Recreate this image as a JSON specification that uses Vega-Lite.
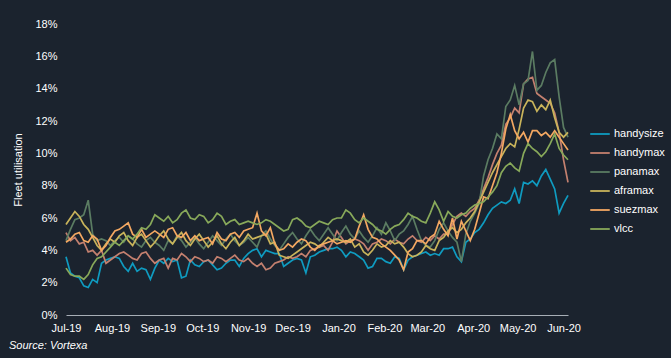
{
  "$schema": "https://vega.github.io/schema/vega-lite/v6.json",
  "width": 502,
  "height": 291,
  "autosize": {"type": "none"},
  "padding": {"left": 66, "top": 24, "right": 103, "bottom": 43},
  "background": "#1b232e",
  "config": {
    "view": {"stroke": null},
    "font": "Liberation Sans",
    "axis": {"labelFont": "Liberation Sans", "titleFont": "Liberation Sans", "labelColor": "#ffffff", "titleColor": "#ffffff", "grid": false},
    "legend": {"labelFont": "Liberation Sans"}
  },
  "title": {
    "text": "Source: Vortexa",
    "orient": "bottom",
    "anchor": "start",
    "frame": "bounds",
    "font": "Liberation Sans",
    "fontStyle": "italic",
    "fontWeight": "normal",
    "fontSize": 11,
    "color": "#ffffff",
    "offset": 7,
    "dx": -4
  },
  "data": {
    "values": [
      {"date":"2019-07-01","handysize":3.6,"handymax":5.1,"panamax":4.6,"aframax":5.6,"suezmax":4.5,"vlcc":2.9},
      {"date":"2019-07-04","handysize":2.6,"handymax":4.6,"panamax":5.3,"aframax":6.0,"suezmax":4.7,"vlcc":2.5},
      {"date":"2019-07-07","handysize":2.4,"handymax":4.8,"panamax":5.9,"aframax":6.4,"suezmax":5.0,"vlcc":2.4},
      {"date":"2019-07-10","handysize":2.3,"handymax":4.4,"panamax":6.0,"aframax":6.1,"suezmax":5.1,"vlcc":2.4},
      {"date":"2019-07-13","handysize":1.8,"handymax":4.5,"panamax":6.2,"aframax":5.6,"suezmax":4.6,"vlcc":2.2},
      {"date":"2019-07-16","handysize":1.7,"handymax":3.9,"panamax":7.1,"aframax":5.3,"suezmax":4.5,"vlcc":2.5},
      {"date":"2019-07-19","handysize":2.2,"handymax":4.0,"panamax":5.0,"aframax":4.8,"suezmax":4.9,"vlcc":3.1},
      {"date":"2019-07-22","handysize":2.0,"handymax":3.7,"panamax":4.6,"aframax":4.3,"suezmax":4.7,"vlcc":3.5},
      {"date":"2019-07-25","handysize":3.2,"handymax":4.0,"panamax":4.7,"aframax":4.0,"suezmax":4.0,"vlcc":3.6},
      {"date":"2019-07-28","handysize":3.4,"handymax":3.2,"panamax":4.6,"aframax":4.4,"suezmax":4.3,"vlcc":3.9},
      {"date":"2019-07-31","handysize":3.5,"handymax":3.4,"panamax":4.3,"aframax":4.7,"suezmax":4.8,"vlcc":4.2},
      {"date":"2019-08-03","handysize":3.6,"handymax":3.6,"panamax":4.6,"aframax":4.5,"suezmax":5.2,"vlcc":4.5},
      {"date":"2019-08-06","handysize":3.5,"handymax":3.8,"panamax":4.8,"aframax":4.9,"suezmax":5.3,"vlcc":4.3},
      {"date":"2019-08-09","handysize":3.0,"handymax":3.9,"panamax":4.5,"aframax":5.1,"suezmax":5.5,"vlcc":4.6},
      {"date":"2019-08-12","handysize":2.7,"handymax":3.7,"panamax":4.9,"aframax":4.6,"suezmax":5.7,"vlcc":4.9},
      {"date":"2019-08-15","handysize":3.2,"handymax":3.5,"panamax":4.7,"aframax":4.3,"suezmax":5.0,"vlcc":4.7},
      {"date":"2019-08-18","handysize":2.7,"handymax":3.4,"panamax":4.4,"aframax":4.8,"suezmax":4.8,"vlcc":5.0},
      {"date":"2019-08-21","handysize":2.9,"handymax":3.8,"panamax":4.2,"aframax":5.0,"suezmax":5.3,"vlcc":5.4},
      {"date":"2019-08-24","handysize":2.8,"handymax":3.9,"panamax":4.6,"aframax":4.6,"suezmax":4.8,"vlcc":5.3},
      {"date":"2019-08-27","handysize":2.2,"handymax":3.5,"panamax":4.8,"aframax":4.2,"suezmax":5.0,"vlcc":5.6},
      {"date":"2019-08-30","handysize":2.9,"handymax":3.2,"panamax":4.5,"aframax":4.5,"suezmax":5.2,"vlcc":6.2},
      {"date":"2019-09-02","handysize":3.4,"handymax":3.4,"panamax":4.3,"aframax":4.9,"suezmax":5.0,"vlcc":6.0},
      {"date":"2019-09-05","handysize":3.2,"handymax":3.5,"panamax":4.0,"aframax":5.2,"suezmax":4.8,"vlcc":5.8},
      {"date":"2019-09-08","handysize":3.5,"handymax":2.9,"panamax":4.6,"aframax":4.7,"suezmax":5.3,"vlcc":6.1},
      {"date":"2019-09-11","handysize":3.3,"handymax":3.5,"panamax":4.4,"aframax":4.4,"suezmax":5.4,"vlcc":5.7},
      {"date":"2019-09-14","handysize":3.4,"handymax":3.4,"panamax":4.9,"aframax":4.8,"suezmax":4.9,"vlcc":5.9},
      {"date":"2019-09-17","handysize":2.3,"handymax":3.8,"panamax":4.6,"aframax":5.1,"suezmax":4.8,"vlcc":6.3},
      {"date":"2019-09-20","handysize":2.4,"handymax":3.6,"panamax":4.2,"aframax":4.6,"suezmax":5.1,"vlcc":6.5},
      {"date":"2019-09-23","handysize":3.4,"handymax":3.3,"panamax":4.5,"aframax":4.3,"suezmax":4.6,"vlcc":6.0},
      {"date":"2019-09-26","handysize":3.1,"handymax":3.6,"panamax":4.8,"aframax":4.7,"suezmax":4.9,"vlcc":5.9},
      {"date":"2019-09-29","handysize":3.0,"handymax":3.5,"panamax":4.4,"aframax":5.0,"suezmax":4.6,"vlcc":6.2},
      {"date":"2019-10-02","handysize":3.3,"handymax":3.3,"panamax":4.1,"aframax":4.6,"suezmax":4.7,"vlcc":6.1},
      {"date":"2019-10-05","handysize":3.4,"handymax":3.4,"panamax":4.5,"aframax":4.2,"suezmax":4.8,"vlcc":5.7},
      {"date":"2019-10-08","handysize":3.1,"handymax":3.2,"panamax":4.9,"aframax":4.5,"suezmax":4.4,"vlcc":5.9},
      {"date":"2019-10-11","handysize":2.8,"handymax":3.6,"panamax":4.6,"aframax":4.9,"suezmax":5.1,"vlcc":6.3},
      {"date":"2019-10-14","handysize":2.9,"handymax":3.5,"panamax":4.3,"aframax":4.4,"suezmax":4.7,"vlcc":6.1},
      {"date":"2019-10-17","handysize":3.2,"handymax":3.3,"panamax":4.7,"aframax":4.1,"suezmax":4.6,"vlcc":5.6},
      {"date":"2019-10-20","handysize":3.4,"handymax":3.5,"panamax":5.0,"aframax":4.5,"suezmax":5.0,"vlcc":5.8},
      {"date":"2019-10-23","handysize":3.4,"handymax":3.7,"panamax":4.6,"aframax":4.8,"suezmax":5.1,"vlcc":5.9},
      {"date":"2019-10-26","handysize":3.0,"handymax":3.4,"panamax":4.3,"aframax":4.3,"suezmax":4.8,"vlcc":5.6},
      {"date":"2019-10-29","handysize":3.5,"handymax":3.3,"panamax":4.5,"aframax":4.6,"suezmax":5.2,"vlcc":5.7},
      {"date":"2019-11-01","handysize":3.8,"handymax":3.5,"panamax":4.8,"aframax":5.0,"suezmax":5.3,"vlcc":5.8},
      {"date":"2019-11-04","handysize":4.0,"handymax":3.2,"panamax":4.5,"aframax":4.7,"suezmax":5.4,"vlcc":5.7},
      {"date":"2019-11-07","handysize":4.1,"handymax":3.0,"panamax":4.2,"aframax":4.8,"suezmax":6.3,"vlcc":5.6},
      {"date":"2019-11-10","handysize":3.6,"handymax":3.2,"panamax":4.9,"aframax":4.9,"suezmax":5.2,"vlcc":5.7},
      {"date":"2019-11-13","handysize":4.0,"handymax":2.8,"panamax":5.2,"aframax":5.0,"suezmax":4.9,"vlcc":5.9},
      {"date":"2019-11-16","handysize":3.9,"handymax":2.9,"panamax":4.7,"aframax":4.4,"suezmax":5.4,"vlcc":5.8},
      {"date":"2019-11-19","handysize":3.8,"handymax":3.2,"panamax":4.3,"aframax":4.5,"suezmax":4.4,"vlcc":5.6},
      {"date":"2019-11-22","handysize":3.8,"handymax":3.3,"panamax":4.0,"aframax":3.7,"suezmax":4.0,"vlcc":5.4},
      {"date":"2019-11-25","handysize":3.0,"handymax":3.4,"panamax":4.4,"aframax":3.6,"suezmax":4.1,"vlcc":5.2},
      {"date":"2019-11-28","handysize":3.2,"handymax":3.6,"panamax":4.8,"aframax":3.5,"suezmax":4.4,"vlcc":5.3},
      {"date":"2019-12-01","handysize":3.4,"handymax":3.5,"panamax":5.1,"aframax":3.7,"suezmax":4.2,"vlcc":5.9},
      {"date":"2019-12-04","handysize":3.5,"handymax":3.6,"panamax":4.7,"aframax":3.9,"suezmax":4.5,"vlcc":6.0},
      {"date":"2019-12-07","handysize":3.4,"handymax":3.8,"panamax":4.4,"aframax":4.1,"suezmax":4.7,"vlcc":5.8},
      {"date":"2019-12-10","handysize":2.6,"handymax":3.6,"panamax":4.9,"aframax":4.3,"suezmax":4.6,"vlcc":5.5},
      {"date":"2019-12-13","handysize":3.6,"handymax":4.0,"panamax":5.3,"aframax":4.5,"suezmax":4.2,"vlcc":5.4},
      {"date":"2019-12-16","handysize":3.7,"handymax":4.1,"panamax":4.9,"aframax":4.4,"suezmax":4.0,"vlcc":5.6},
      {"date":"2019-12-19","handysize":3.9,"handymax":4.2,"panamax":4.6,"aframax":4.2,"suezmax":4.3,"vlcc":5.8},
      {"date":"2019-12-22","handysize":4.0,"handymax":4.3,"panamax":5.0,"aframax":4.5,"suezmax":4.4,"vlcc":5.7},
      {"date":"2019-12-25","handysize":4.1,"handymax":4.0,"panamax":5.4,"aframax":4.8,"suezmax":4.5,"vlcc":5.6},
      {"date":"2019-12-28","handysize":4.1,"handymax":4.5,"panamax":5.0,"aframax":4.6,"suezmax":4.6,"vlcc":5.9},
      {"date":"2019-12-31","handysize":4.2,"handymax":5.2,"panamax":4.6,"aframax":4.7,"suezmax":4.4,"vlcc":6.0},
      {"date":"2020-01-03","handysize":4.0,"handymax":4.8,"panamax":5.1,"aframax":4.6,"suezmax":4.5,"vlcc":6.0},
      {"date":"2020-01-06","handysize":3.6,"handymax":4.4,"panamax":5.5,"aframax":4.5,"suezmax":4.6,"vlcc":6.5},
      {"date":"2020-01-09","handysize":3.9,"handymax":4.6,"panamax":5.0,"aframax":4.7,"suezmax":4.5,"vlcc":6.3},
      {"date":"2020-01-12","handysize":3.8,"handymax":4.7,"panamax":4.7,"aframax":4.2,"suezmax":4.7,"vlcc":5.9},
      {"date":"2020-01-15","handysize":3.6,"handymax":4.6,"panamax":5.2,"aframax":4.4,"suezmax":5.5,"vlcc":5.7},
      {"date":"2020-01-18","handysize":3.4,"handymax":4.4,"panamax":4.8,"aframax":3.9,"suezmax":6.2,"vlcc":6.0},
      {"date":"2020-01-21","handysize":2.9,"handymax":4.0,"panamax":4.5,"aframax":3.7,"suezmax":5.3,"vlcc":5.8},
      {"date":"2020-01-24","handysize":3.0,"handymax":4.4,"panamax":4.9,"aframax":4.0,"suezmax":4.8,"vlcc":5.6},
      {"date":"2020-01-27","handysize":3.5,"handymax":4.5,"panamax":5.4,"aframax":4.4,"suezmax":4.7,"vlcc":5.3},
      {"date":"2020-01-30","handysize":3.5,"handymax":4.7,"panamax":5.0,"aframax":4.2,"suezmax":4.4,"vlcc":5.2},
      {"date":"2020-02-02","handysize":3.3,"handymax":4.6,"panamax":5.7,"aframax":4.3,"suezmax":4.2,"vlcc":5.0},
      {"date":"2020-02-05","handysize":3.2,"handymax":4.4,"panamax":5.2,"aframax":4.6,"suezmax":4.0,"vlcc":5.3},
      {"date":"2020-02-08","handysize":3.6,"handymax":4.7,"panamax":4.6,"aframax":4.4,"suezmax":3.7,"vlcc":5.5},
      {"date":"2020-02-11","handysize":3.5,"handymax":4.5,"panamax":5.0,"aframax":4.5,"suezmax":3.4,"vlcc":5.6},
      {"date":"2020-02-14","handysize":2.8,"handymax":4.4,"panamax":5.2,"aframax":4.2,"suezmax":2.8,"vlcc":5.9},
      {"date":"2020-02-17","handysize":3.4,"handymax":4.7,"panamax":5.6,"aframax":3.8,"suezmax":3.9,"vlcc":6.3},
      {"date":"2020-02-20","handysize":3.6,"handymax":4.9,"panamax":6.1,"aframax":3.6,"suezmax":4.1,"vlcc":6.1},
      {"date":"2020-02-23","handysize":3.7,"handymax":4.6,"panamax":5.3,"aframax":3.7,"suezmax":4.6,"vlcc":6.0},
      {"date":"2020-02-26","handysize":3.8,"handymax":4.5,"panamax":4.6,"aframax":3.9,"suezmax":4.6,"vlcc":5.8},
      {"date":"2020-02-29","handysize":3.9,"handymax":4.8,"panamax":4.3,"aframax":4.3,"suezmax":4.4,"vlcc":5.7},
      {"date":"2020-03-03","handysize":3.7,"handymax":4.6,"panamax":4.2,"aframax":4.1,"suezmax":4.8,"vlcc":6.3},
      {"date":"2020-03-06","handysize":3.8,"handymax":4.9,"panamax":4.6,"aframax":4.0,"suezmax":5.0,"vlcc":7.0},
      {"date":"2020-03-09","handysize":3.7,"handymax":4.7,"panamax":5.3,"aframax":4.6,"suezmax":5.8,"vlcc":6.5},
      {"date":"2020-03-12","handysize":4.1,"handymax":5.0,"panamax":5.7,"aframax":4.8,"suezmax":5.3,"vlcc":5.8},
      {"date":"2020-03-15","handysize":4.1,"handymax":5.0,"panamax":5.2,"aframax":5.2,"suezmax":4.9,"vlcc":6.4},
      {"date":"2020-03-18","handysize":4.2,"handymax":5.6,"panamax":4.8,"aframax":5.4,"suezmax":6.0,"vlcc":6.1},
      {"date":"2020-03-21","handysize":3.6,"handymax":6.1,"panamax":4.5,"aframax":5.1,"suezmax":4.7,"vlcc":6.0},
      {"date":"2020-03-24","handysize":3.3,"handymax":6.3,"panamax":3.3,"aframax":5.3,"suezmax":5.8,"vlcc":6.2},
      {"date":"2020-03-27","handysize":4.5,"handymax":6.1,"panamax":5.0,"aframax":5.7,"suezmax":5.2,"vlcc":6.3},
      {"date":"2020-03-30","handysize":4.7,"handymax":6.4,"panamax":5.8,"aframax":6.0,"suezmax":4.6,"vlcc":6.6},
      {"date":"2020-04-02","handysize":5.1,"handymax":6.6,"panamax":6.3,"aframax":6.4,"suezmax":5.3,"vlcc":6.8},
      {"date":"2020-04-05","handysize":5.3,"handymax":7.1,"panamax":6.9,"aframax":7.0,"suezmax":6.3,"vlcc":6.9},
      {"date":"2020-04-08","handysize":5.7,"handymax":7.8,"panamax":8.6,"aframax":7.6,"suezmax":7.3,"vlcc":7.0},
      {"date":"2020-04-11","handysize":6.2,"handymax":8.5,"panamax":9.6,"aframax":8.2,"suezmax":7.2,"vlcc":7.3},
      {"date":"2020-04-14","handysize":6.6,"handymax":9.3,"panamax":10.3,"aframax":8.8,"suezmax":8.0,"vlcc":7.6},
      {"date":"2020-04-17","handysize":6.8,"handymax":10.0,"panamax":11.2,"aframax":9.3,"suezmax":8.8,"vlcc":8.0},
      {"date":"2020-04-20","handysize":7.0,"handymax":10.5,"panamax":10.9,"aframax":9.8,"suezmax":10.0,"vlcc":8.8},
      {"date":"2020-04-23","handysize":6.9,"handymax":11.8,"panamax":12.9,"aframax":10.3,"suezmax":11.5,"vlcc":9.2},
      {"date":"2020-04-26","handysize":7.1,"handymax":12.2,"panamax":13.3,"aframax":10.6,"suezmax":12.4,"vlcc":9.4},
      {"date":"2020-04-29","handysize":7.8,"handymax":12.8,"panamax":14.2,"aframax":10.4,"suezmax":11.4,"vlcc":9.1},
      {"date":"2020-05-02","handysize":6.9,"handymax":12.5,"panamax":13.0,"aframax":11.5,"suezmax":10.9,"vlcc":8.9},
      {"date":"2020-05-05","handysize":8.2,"handymax":14.3,"panamax":14.3,"aframax":12.8,"suezmax":11.3,"vlcc":10.0},
      {"date":"2020-05-08","handysize":8.1,"handymax":14.6,"panamax":14.5,"aframax":13.3,"suezmax":10.7,"vlcc":10.6},
      {"date":"2020-05-11","handysize":8.3,"handymax":14.7,"panamax":16.3,"aframax":13.2,"suezmax":11.4,"vlcc":10.3},
      {"date":"2020-05-14","handysize":8.0,"handymax":13.7,"panamax":13.9,"aframax":12.6,"suezmax":11.4,"vlcc":10.1},
      {"date":"2020-05-17","handysize":8.6,"handymax":13.5,"panamax":14.2,"aframax":13.0,"suezmax":11.1,"vlcc":9.8},
      {"date":"2020-05-20","handysize":9.0,"handymax":13.3,"panamax":15.0,"aframax":12.7,"suezmax":11.3,"vlcc":10.1},
      {"date":"2020-05-23","handysize":8.4,"handymax":13.1,"panamax":15.6,"aframax":13.3,"suezmax":11.0,"vlcc":10.6},
      {"date":"2020-05-26","handysize":7.8,"handymax":12.5,"panamax":15.8,"aframax":12.2,"suezmax":11.4,"vlcc":11.2},
      {"date":"2020-05-29","handysize":6.3,"handymax":11.3,"panamax":13.5,"aframax":11.3,"suezmax":11.0,"vlcc":10.3},
      {"date":"2020-06-01","handysize":6.9,"handymax":9.6,"panamax":11.6,"aframax":11.0,"suezmax":10.6,"vlcc":9.9},
      {"date":"2020-06-04","handysize":7.4,"handymax":8.2,"panamax":11.0,"aframax":11.3,"suezmax":10.2,"vlcc":9.6}
    ]
  },
  "transform": [
    {"fold": ["handysize", "handymax", "panamax", "aframax", "suezmax", "vlcc"], "as": ["series", "value"]}
  ],
  "mark": {"type": "line", "strokeWidth": 1.7, "interpolate": "linear"},
  "encoding": {
    "x": {
      "field": "date",
      "type": "temporal",
      "scale": {
        "type": "utc",
        "domain": [
          {"year": 2019, "month": 7, "date": 1, "utc": true},
          {"year": 2020, "month": 6, "date": 4, "utc": true}
        ]
      },
      "axis": {
        "title": null,
        "format": "%b-%y",
        "values": [
          {"year": 2019, "month": 7, "date": 1, "utc": true},
          {"year": 2019, "month": 8, "date": 1, "utc": true},
          {"year": 2019, "month": 9, "date": 1, "utc": true},
          {"year": 2019, "month": 10, "date": 1, "utc": true},
          {"year": 2019, "month": 11, "date": 1, "utc": true},
          {"year": 2019, "month": 12, "date": 1, "utc": true},
          {"year": 2020, "month": 1, "date": 1, "utc": true},
          {"year": 2020, "month": 2, "date": 1, "utc": true},
          {"year": 2020, "month": 3, "date": 1, "utc": true},
          {"year": 2020, "month": 4, "date": 1, "utc": true},
          {"year": 2020, "month": 5, "date": 1, "utc": true},
          {"year": 2020, "month": 6, "date": 1, "utc": true}
        ],
        "ticks": false,
        "tickSize": 0,
        "labelPadding": 7,
        "labelFontSize": 11,
        "labelAngle": 0,
        "labelFlush": false,
        "labelOverlap": false,
        "domainColor": "#a7aeb6",
        "domainWidth": 1.2
      }
    },
    "y": {
      "field": "value",
      "type": "quantitative",
      "scale": {"domain": [0, 18], "nice": false, "zero": true},
      "axis": {
        "title": "Fleet utilisation",
        "titleFontSize": 11,
        "titleFontWeight": "normal",
        "titlePadding": 11,
        "values": [0, 2, 4, 6, 8, 10, 12, 14, 16, 18],
        "labelExpr": "datum.value + '%'",
        "labelFontSize": 11,
        "labelPadding": 9,
        "ticks": false,
        "tickSize": 0,
        "domain": false
      }
    },
    "color": {
      "field": "series",
      "type": "nominal",
      "sort": ["handysize", "handymax", "panamax", "aframax", "suezmax", "vlcc"],
      "scale": {
        "domain": ["handysize", "handymax", "panamax", "aframax", "suezmax", "vlcc"],
        "range": ["#0f9bc0", "#c4806f", "#5b7c62", "#c9b45b", "#f4a862", "#88a95a"]
      },
      "legend": {
        "title": null,
        "orient": "none",
        "legendX": 523,
        "legendY": 99,
        "symbolType": "stroke",
        "symbolSize": 380,
        "symbolStrokeWidth": 1.8,
        "labelColor": "#ffffff",
        "labelFontSize": 11,
        "labelOffset": 3,
        "rowPadding": 3
      }
    }
  }
}
